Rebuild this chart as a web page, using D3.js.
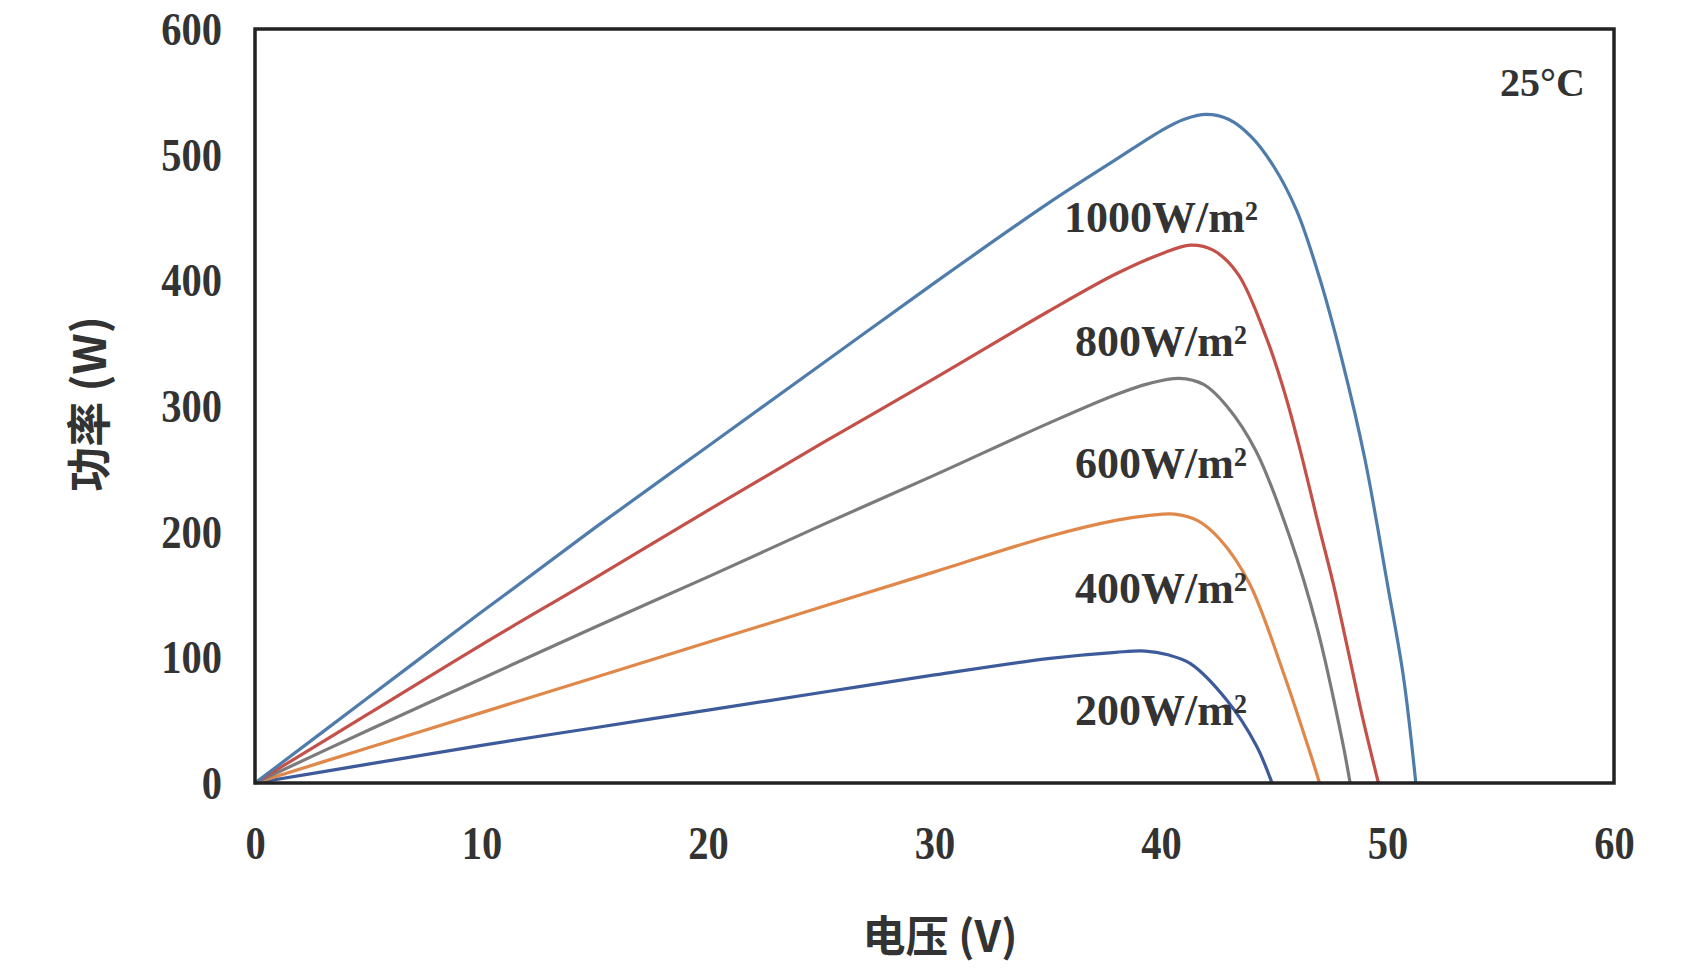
<!DOCTYPE html>
<html>
<head>
<meta charset="utf-8">
<script src="https://cdn.jsdelivr.net/npm/d3@7"></script>
<style>
    body { margin: 0; background: #fff; }
    svg { display: block; }
</style>
</head>
<body>
<svg id="chart" width="1682" height="976"></svg>
<script>
// P-V curves at 25C for different irradiance levels

var irradiance = ["1000W/m²", "800W/m²", "600W/m²", "400W/m²", "200W/m²"];
var colors = ["#4f7cab", "#c4504a", "#7b7b7b", "#e0874a", "#3d5b9b"];

// voltage (V) and power (W), one pair per curve
var v1000 = [0, 5, 10, 15, 20, 25, 30, 35, 38, 40, 41, 42, 43, 44, 45, 46, 47, 48, 49, 50, 50.7, 51.25];
var p1000 = [0, 68, 136, 203, 268, 333, 398, 461, 496, 519, 528, 532, 528, 514, 490, 455, 402, 336, 258, 158, 85, 0];

var v800 = [0, 5, 10, 15, 20, 25, 30, 35, 38, 40, 41.3, 42.3, 43.4, 44.7, 45.5, 46.1, 47, 47.6, 48.3, 48.9, 49.6];
var p800 = [0, 55, 110, 163, 217, 270, 322, 375, 405, 421, 428, 424, 405, 352, 308, 268, 202, 159, 102, 52, 0];

var v600 = [0, 5, 10, 15, 20, 25, 30, 35, 38, 39.5, 40.8, 41.9, 42.9, 44.2, 45.7, 46.9, 48.0, 48.35];
var p600 = [0, 42, 83, 124, 164, 205, 245, 286, 309, 318, 322, 317, 300, 264, 195, 123, 34, 0];

var v400 = [0, 5, 10, 15, 20, 25, 30, 35, 38, 39.5, 40.6, 41.6, 42.6, 43.9, 45.4, 46.6, 47.0];
var p400 = [0, 28, 56, 84, 112, 140, 168, 196, 209, 213, 214, 209, 194, 159, 88, 23, 0];

var v200 = [0, 5, 10, 15, 20, 25, 30, 35, 38, 39.3, 40.3, 41.3, 42.9, 44.2, 44.9];
var p200 = [0, 15, 30, 44, 58, 72, 86, 99, 104, 105, 102, 95, 66, 30, 0];

// where the irradiance labels sit (V, W)
var labelV = [40, 40, 40, 40, 40];
var labelP = [450, 352, 255, 155, 58];

var xTicks = [0, 10, 20, 30, 40, 50, 60];
var yTicks = [0, 100, 200, 300, 400, 500, 600];

var xTitle = "电压 (V)";
var yTitle = "功率 (W)";
var tempNote = "25°C";

// build series list from the arrays above
var allV = [v1000, v800, v600, v400, v200];
var allP = [p1000, p800, p600, p400, p200];
var series = irradiance.map(function (name, i) {
    return {
        name: name,
        color: colors[i],
        points: allV[i].map(function (v, j) { return { v: v, p: allP[i][j] }; })
    };
});

var svg = d3.select("#chart");
// NB: can't call it "top", window.top is read-only
var plotL = 255, plotR = 1614, plotT = 29, plotB = 783;

var x = d3.scaleLinear().domain([0, 60]).range([plotL, plotR]);
var y = d3.scaleLinear().domain([0, 600]).range([plotB, plotT]);

var serif = "'Liberation Serif', 'Times New Roman', serif";
var cjk = "'Noto Sans CJK SC', 'Noto Sans', sans-serif";

// axes - only labels, the box is drawn separately
var xAxis = svg.append("g")
    .attr("transform", "translate(0," + plotB + ")")
    .call(d3.axisBottom(x).tickValues(xTicks).tickSize(0).tickPadding(0));
xAxis.select(".domain").remove();
xAxis.selectAll("text")
    .attr("y", 0)
    .attr("dy", 0)
    .attr("transform", "translate(0,76) scale(0.88,1)")
    .style("font-family", serif)
    .style("font-weight", "bold")
    .style("font-size", "46px")
    .style("fill", "#333");

var yAxis = svg.append("g")
    .attr("transform", "translate(" + plotL + ",0)")
    .call(d3.axisLeft(y).tickValues(yTicks).tickSize(0).tickPadding(0));
yAxis.select(".domain").remove();
yAxis.selectAll("text")
    .attr("x", 0)
    .attr("dy", "0.34em")
    .attr("transform", "translate(-33,0) scale(0.88,1)")
    .style("font-family", serif)
    .style("font-weight", "bold")
    .style("font-size", "46px")
    .style("fill", "#333");

// the curves - catmull rom keeps the domes round
var line = d3.line()
    .x(function (d) { return x(d.v); })
    .y(function (d) { return y(d.p); })
    .curve(d3.curveCatmullRom.alpha(0.5));

svg.append("g").selectAll("path")
    .data(series.slice().reverse())
    .enter().append("path")
    .attr("d", function (d) { return line(d.points); })
    .attr("fill", "none")
    .attr("stroke", function (d) { return d.color; })
    .attr("stroke-width", 3.2);

// plot frame
svg.append("rect")
    .attr("x", plotL)
    .attr("y", plotT)
    .attr("width", plotR - plotL)
    .attr("height", plotB - plotT)
    .attr("fill", "none")
    .attr("stroke", "#222")
    .attr("stroke-width", 3.5);

// irradiance labels
svg.append("g").selectAll("text")
    .data(series)
    .enter().append("text")
    .attr("x", function (d, i) { return x(labelV[i]); })
    .attr("y", function (d, i) { return y(labelP[i]); })
    .attr("dy", "0.34em")
    .attr("text-anchor", "middle")
    .style("font-family", serif)
    .style("font-weight", "bold")
    .style("font-size", "44px")
    .style("fill", "#333")
    .text(function (d) { return d.name; });

// temperature note, top right
svg.append("text")
    .attr("x", 1585)
    .attr("y", 96)
    .attr("text-anchor", "end")
    .style("font-family", serif)
    .style("font-weight", "bold")
    .style("font-size", "40px")
    .style("fill", "#333")
    .text(tempNote);

// axis titles
svg.append("text")
    .attr("x", 940)
    .attr("y", 952)
    .attr("text-anchor", "middle")
    .style("font-family", cjk)
    .style("font-weight", "bold")
    .style("font-size", "43px")
    .style("fill", "#333")
    .text(xTitle);

svg.append("text")
    .attr("transform", "translate(106,404) rotate(-90)")
    .attr("text-anchor", "middle")
    .style("font-family", cjk)
    .style("font-weight", "bold")
    .style("font-size", "45px")
    .style("fill", "#333")
    .text(yTitle);

console.log("drawn " + series.length + " curves");
</script>
</body>
</html>
